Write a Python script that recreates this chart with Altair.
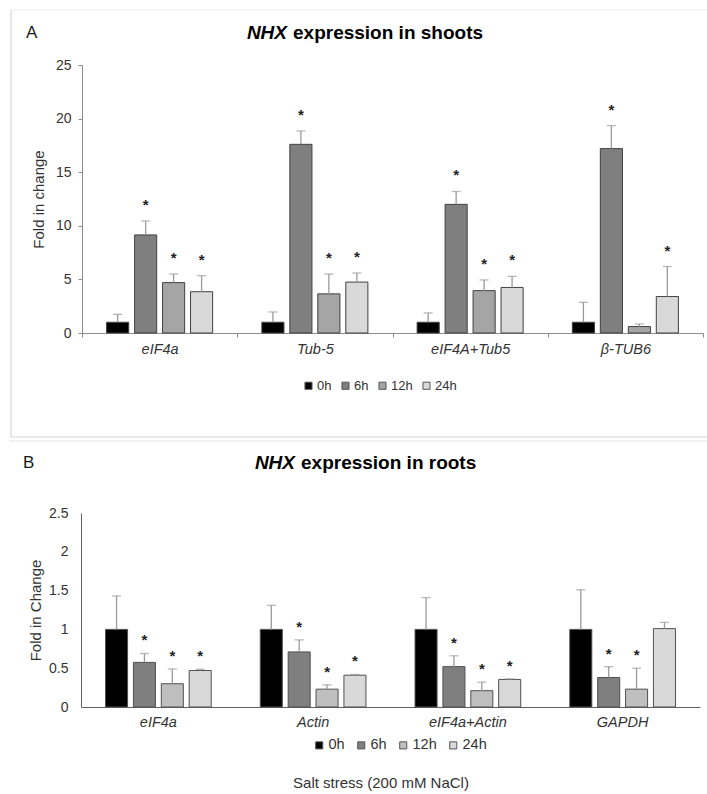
import altair as alt
import pandas as pd

FONT = "Liberation Sans, Arial, sans-serif"

# sampling times (legend order)
times = ["0h", "6h", "12h", "24h"]

# Panel A: NHX in shoots, normalised with four reference genes
shoot_genes = ["eIF4a", "Tub-5", "eIF4A+Tub5", "β-TUB6"]
shoot_mean = [
    [1.0, 9.15, 4.70, 3.85],
    [1.0, 17.60, 3.65, 4.75],
    [1.0, 12.00, 3.95, 4.25],
    [1.0, 17.20, 0.60, 3.40],
]
shoot_sd = [
    [0.74, 1.30, 0.80, 1.50],
    [0.96, 1.25, 1.85, 0.85],
    [0.87, 1.20, 1.00, 1.03],
    [1.86, 2.15, 0.24, 2.80],
]
shoot_sig = [
    [0, 1, 1, 1],
    [0, 1, 1, 1],
    [0, 1, 1, 1],
    [0, 1, 0, 1],
]

# Panel B: NHX in roots
root_genes = ["eIF4a", "Actin", "eIF4a+Actin", "GAPDH"]
root_mean = [
    [1.0, 0.575, 0.30, 0.47],
    [1.0, 0.71, 0.23, 0.41],
    [1.0, 0.52, 0.21, 0.355],
    [1.0, 0.38, 0.23, 1.01],
]
root_sd = [
    [0.43, 0.115, 0.19, 0.015],
    [0.31, 0.155, 0.055, 0.01],
    [0.41, 0.14, 0.11, 0.008],
    [0.51, 0.14, 0.27, 0.08],
]
root_sig = [
    [0, 1, 1, 1],
    [0, 1, 1, 1],
    [0, 1, 1, 1],
    [0, 1, 1, 0],
]

shoot_colors = ["#000000", "#7f7f7f", "#a5a5a5", "#d9d9d9"]
root_colors = ["#000000", "#7f7f7f", "#bfbfbf", "#d9d9d9"]


def to_frame(genes, mean, sd, sig):
    rows = []
    for gi, g in enumerate(genes):
        for ti, t in enumerate(times):
            rows.append({
                "gene": g, "time": t,
                "mean": mean[gi][ti],
                "top": mean[gi][ti] + sd[gi][ti],
                "sig": sig[gi][ti],
            })
    return pd.DataFrame(rows)


shoots = to_frame(shoot_genes, shoot_mean, shoot_sd, shoot_sig)
roots = to_frame(root_genes, root_mean, root_sd, root_sig)


def panel(df, genes, colors, x_range, y_domain, y_range, x_axis, y_axis,
          legend, err_color, bar_stroke, star_dy):
    x = alt.X("gene:N", sort=genes,
              scale=alt.Scale(range=x_range, paddingInner=0, paddingOuter=0),
              axis=x_axis)
    xo = alt.XOffset("time:N", sort=times,
                     scale=alt.Scale(paddingInner=0.21, paddingOuter=0.88))
    ys = alt.Scale(domain=y_domain, range=y_range, nice=False)
    base = alt.Chart(df)
    bars = base.mark_bar(stroke=bar_stroke, strokeWidth=1).encode(
        x=x, xOffset=xo,
        y=alt.Y("mean:Q", scale=ys, axis=y_axis),
        fill=alt.Fill("time:N", sort=times,
                      scale=alt.Scale(domain=times, range=colors),
                      legend=legend),
    )
    err = base.mark_rule(color=err_color, strokeWidth=1.3).encode(
        x=x, xOffset=xo,
        y=alt.Y("mean:Q", scale=ys, axis=y_axis), y2="top:Q",
    )
    caps = base.mark_tick(color=err_color, thickness=1.3, size=9,
                          orient="horizontal").encode(
        x=x, xOffset=xo, y=alt.Y("top:Q", scale=ys, axis=y_axis),
    )
    stars = base.transform_filter("datum.sig == 1").mark_text(
        text="*", fontSize=15, fontWeight="bold", dy=star_dy, color="#222",
        font=FONT, baseline="alphabetic",
    ).encode(x=x, xOffset=xo, y=alt.Y("top:Q", scale=ys, axis=y_axis))
    return alt.layer(bars, err, caps, stars)


axis_common = dict(grid=False, labelFont=FONT, titleFont=FONT,
                   labelColor="#333333", titleColor="#333333",
                   titleFontWeight="normal")

panel_a = panel(
    shoots, shoot_genes, shoot_colors,
    x_range=[1, 622], y_domain=[0, 25], y_range=[268, 0],
    x_axis=alt.Axis(orient="bottom", offset=-374, tickBand="extent",
                    tickSize=4, tickColor="#8c8c8c", domainColor="#8c8c8c",
                    labelFontStyle="italic", labelFontSize=14.5,
                    labelPadding=5, labelAngle=0, title=None, **axis_common),
    y_axis=alt.Axis(orient="left", values=[0, 5, 10, 15, 20, 25], offset=-1,
                    tickSize=4, tickColor="#8c8c8c", domainColor="#8c8c8c",
                    labelFontSize=14, labelPadding=7,
                    title="Fold in change", titleFontSize=15,
                    titlePadding=9, **axis_common),
    legend=alt.Legend(orient="none", legendX=221, legendY=314,
                      direction="horizontal", title=None, symbolType="square",
                      symbolSize=50, symbolStrokeColor="#555555",
                      symbolStrokeWidth=1, labelFontSize=13, labelOffset=2,
                      columnPadding=7, labelColor="#333333", labelFont=FONT),
    err_color="#9a9a9a", bar_stroke="#404040", star_dy=-11,
)

panel_b = panel(
    roots, root_genes, root_colors,
    x_range=[0, 619], y_domain=[0, 2.5], y_range=[642, 448],
    x_axis=alt.Axis(orient="bottom", ticks=False, tickSize=0,
                    domainColor="#606060", labelFontStyle="italic",
                    labelFontSize=14.5, labelPadding=8, labelAngle=0,
                    title=None, **axis_common),
    y_axis=alt.Axis(orient="left", values=[0, 0.5, 1, 1.5, 2, 2.5],
                    format="~g", ticks=False, tickSize=0,
                    domainColor="#606060", labelFontSize=14,
                    labelPadding=13, title="Fold in Change",
                    titleFontSize=15, titlePadding=5, **axis_common),
    legend=alt.Legend(orient="none", legendX=231, legendY=673,
                      direction="horizontal", title=None, symbolType="square",
                      symbolSize=50, symbolStrokeColor="#555555",
                      symbolStrokeWidth=1, labelFontSize=14.5, labelOffset=2,
                      columnPadding=9, labelColor="#333333", labelFont=FONT),
    err_color="#9a9a9a", bar_stroke="#505050", star_dy=-8,
)

note = pd.DataFrame({"k": [0]})


def text(s, x, y, size, weight="normal", style="normal", align="left",
         color="#1a1a1a"):
    return alt.Chart(note).mark_text(
        text=s, fontSize=size, fontWeight=weight, fontStyle=style,
        align=align, baseline="middle", color=color, font=FONT,
    ).encode(x=alt.value(x), y=alt.value(y))


def line(x1, x2, y1, y2, color):
    return alt.Chart(note).mark_rule(color=color, strokeWidth=1).encode(
        x=alt.value(x1), x2=alt.value(x2), y=alt.value(y1), y2=alt.value(y2))


decor = [
    # panel frames
    line(-70, -70, -55, 372, "#cfcfcf"),
    line(-70, 626, -55, -55, "#ececec"),
    line(-70, 626, 372, 372, "#d4d4d4"),
    line(-72, 626, 376, 376, "#e2e2e2"),
    # panel letters and titles
    text("A", -55, -32, 17),
    text("NHX", 206, -32, 19, weight="bold", style="italic", align="right",
         color="#000000"),
    text("expression in shoots", 212, -32, 19, weight="bold",
         color="#000000"),
    text("B", -58, 398, 17),
    text("NHX", 214, 398, 19, weight="bold", style="italic", align="right",
         color="#000000"),
    text("expression in roots", 220, 398, 19, weight="bold",
         color="#000000"),
    text("Salt stress (200 mM NaCl)", 300, 718, 15, align="center",
         color="#333333"),
]

chart = alt.layer(panel_a, panel_b, *decor).resolve_scale(
    x="independent", y="independent", xOffset="independent",
    fill="independent",
).properties(
    width=622, height=642,
    autosize=alt.AutoSizeParams(type="none"),
    padding={"left": 81, "top": 65, "right": 4, "bottom": 87},
).configure_view(stroke=None)

chart.save("out.html", embed_options={"renderer": "svg", "actions": False})
